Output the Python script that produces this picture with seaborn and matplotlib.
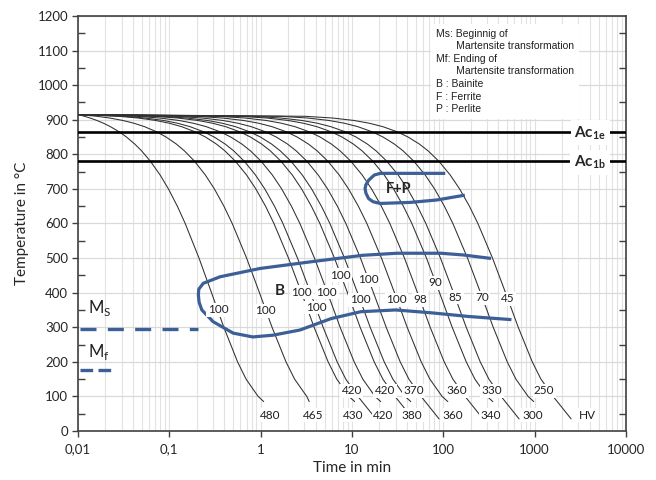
import matplotlib
matplotlib.use("Agg")
import matplotlib.pyplot as plt
import seaborn as sns
import pandas as pd
from matplotlib.ticker import FixedLocator, NullFormatter, LogLocator

# ---------------- data ----------------
# temperature levels at which the time of every cooling curve was read
T_LEVELS = [915, 910, 905, 898, 890, 880, 865, 850, 830, 810, 780, 740, 700, 650, 600, 500, 400, 300, 200, 150, 100]

c01 = [0.01, 0.01178, 0.01356, 0.01609, 0.01899, 0.02266, 0.02826, 0.03396, 0.04173, 0.04970, 0.06207, 0.07939, 0.09776, 0.1224, 0.1492, 0.2113, 0.2894, 0.3950, 0.5582, 0.6921, 0.9378]
c02 = [0.01, 0.01610, 0.02224, 0.03090, 0.04088, 0.05349, 0.07270, 0.09228, 0.1190, 0.1463, 0.1888, 0.2483, 0.3114, 0.3960, 0.4882, 0.7013, 0.9696, 1.332, 1.893, 2.353, 3.197]
c03 = [0.01, 0.02772, 0.04554, 0.07067, 0.09965, 0.1363, 0.1920, 0.2489, 0.3263, 0.4058, 0.5292, 0.7018, 0.8850, 1.131, 1.398, 2.017, 2.796, 3.848, 5.476, 6.811, 9.261]
c04 = [0.01, 0.03225, 0.05462, 0.08618, 0.1226, 0.1685, 0.2386, 0.3099, 0.4072, 0.5070, 0.6618, 0.8786, 1.109, 1.417, 1.753, 2.530, 3.508, 4.829, 6.873, 8.549, 11.62]
c05 = [0.01, 0.04418, 0.07857, 0.1271, 0.1830, 0.2536, 0.3612, 0.4708, 0.6202, 0.7736, 1.012, 1.345, 1.698, 2.172, 2.688, 3.881, 5.384, 7.414, 10.56, 13.13, 17.86]
c06 = [0.01, 0.06665, 0.1236, 0.2040, 0.2966, 0.4137, 0.5920, 0.7737, 1.021, 1.276, 1.670, 2.222, 2.808, 3.593, 4.449, 6.426, 8.917, 12.28, 17.49, 21.76, 29.59]
c07 = [0.01, 0.08296, 0.1564, 0.2598, 0.3792, 0.5300, 0.7596, 0.9936, 1.313, 1.640, 2.148, 2.859, 3.613, 4.625, 5.727, 8.274, 11.48, 15.81, 22.52, 28.02, 38.10]
c08 = [0.01, 0.1192, 0.2291, 0.3840, 0.5626, 0.7883, 1.132, 1.482, 1.960, 2.450, 3.210, 4.274, 5.403, 6.918, 8.566, 12.38, 17.18, 23.67, 33.70, 41.93, 57.03]
c09 = [0.01, 0.1955, 0.3821, 0.6453, 0.9487, 1.332, 1.916, 2.511, 3.322, 4.154, 5.446, 7.253, 9.171, 11.74, 14.55, 21.02, 29.18, 40.19, 57.24, 71.22, 96.87]
c10 = [0.01, 0.3414, 0.6747, 1.145, 1.687, 2.372, 3.415, 4.477, 5.926, 7.413, 9.720, 12.95, 16.37, 20.97, 25.97, 37.54, 52.11, 71.79, 102.2, 127.2, 173.0]
c11 = [0.01, 0.5872, 1.168, 1.986, 2.930, 4.123, 5.940, 7.791, 10.31, 12.90, 16.92, 22.55, 28.51, 36.52, 45.23, 65.38, 90.76, 125.0, 178.1, 221.6, 301.4]
c12 = [0.01, 0.8315, 1.658, 2.823, 4.167, 5.865, 8.450, 11.08, 14.68, 18.36, 24.08, 32.09, 40.58, 51.97, 64.38, 93.06, 129.2, 178.0, 253.4, 315.3, 428.9]
c13 = [0.01, 1.633, 3.267, 5.569, 8.224, 11.58, 16.69, 21.90, 28.99, 36.28, 47.58, 63.40, 80.18, 102.7, 127.2, 183.9, 255.3, 351.7, 500.8, 623.2, 847.6]
c14 = [0.01, 3.060, 6.129, 10.46, 15.44, 21.75, 31.35, 41.13, 54.47, 68.16, 89.39, 119.1, 150.7, 193.0, 239.0, 345.5, 479.6, 660.8, 941.1, 1171, 1593]
CURVES = [c01, c02, c03, c04, c05, c06, c07, c08, c09, c10, c11, c12, c13, c14]
END_TIME = [1.08, 3.40, 10.7, 18.3, 20.6, 46.6, 44.0, 89.8, 112, 272, 348, 675, 978, 2507]
END_TEMP = [85, 85, 85, 35, 85, 35, 85, 35, 85, 35, 85, 35, 85, 35]

# bainite region outline
B_TIME = [333, 165, 94, 31, 13, 3.48, 0.985, 0.36, 0.235, 0.21, 0.208, 0.212, 0.227, 0.302,
          0.50, 0.82, 1.36, 2.69, 5.9, 12.5, 30, 72, 192, 557]
B_TEMP = [499, 509, 514, 514, 508, 489, 470, 446, 427, 410, 393, 372, 350, 316,
          283, 272, 277, 292, 325, 345, 350, 342, 331, 322]
# ferrite + perlite region outline
FP_TIME = [105, 20.3, 17.5, 15.2, 14.2, 13.9, 14.2, 15.2, 17.0, 20.3, 43.3, 85, 172]
FP_TEMP = [745, 745, 740, 725, 712, 701, 688, 672, 663, 658, 661, 668, 682]

AC1E, AC1B = 865, 780
MS_TEMP, MS_END = 295, 0.208
MF_TEMP, MF_END = 176, 0.0248

MID_TEXT = ["100"] * 9 + ["98", "90", "85", "70", "45"]
MID_TIME = [0.342, 1.12, 2.82, 4.04, 5.30, 7.41, 12.3, 15.1, 30.9, 55.7, 81.4, 135, 266, 513]
MID_TEMP = [350, 347, 401, 357, 401, 451, 379, 437, 379, 379, 428, 387, 385, 382]

HV_TEXT = ["480", "465", "430", "420", "380", "360", "340", "300", "HV",
           "420", "420", "370", "360", "330", "250"]
HV_TIME = [1.27, 3.78, 10.4, 22.1, 45.2, 128, 326, 963, 3758,
           9.95, 23.0, 47.0, 141, 340, 1271]
HV_TEMP = [46] * 9 + [116] * 6

X_TICKS = [0.01, 0.1, 1, 10, 100, 1000, 10000]
X_TICK_LABELS = ["0,01", "0,1", "1", "10", "100", "1000", "10000"]
Y_TICKS = list(range(0, 1201, 100))
Y_MINOR = list(range(50, 1200, 100))

LEGEND_TEXT = ("Ms: Beginnig of\n       Martensite transformation\n"
               "Mf: Ending of\n       Martensite transformation\n"
               "B : Bainite\nF : Ferrite\nP : Perlite")

BLUE = "#3b5f96"

# ---------------- build long table ----------------
rows = []
for i, tl in enumerate(CURVES):
    for t, T in zip(tl, T_LEVELS):
        rows.append({"curve": i, "time": t, "temp": T})
    rows.append({"curve": i, "time": END_TIME[i], "temp": END_TEMP[i]})
df = pd.DataFrame(rows)

sns.set_style("white")
plt.rcParams["font.family"] = ["Lato", "DejaVu Sans"]
plt.rcParams["mathtext.fontset"] = "custom"
plt.rcParams["mathtext.rm"] = "Lato"
plt.rcParams["mathtext.bf"] = "Lato:bold"

fig = plt.figure(figsize=(6.56, 4.80), dpi=100)
ax = fig.add_axes([78 / 656, 1 - 431 / 480, (626 - 78) / 656, (431 - 16) / 480])

sns.lineplot(data=df, x="time", y="temp", units="curve", estimator=None, sort=False,
             color="#303030", lw=0.75, ax=ax, legend=False, zorder=3)

ax.set_xscale("log")
ax.set_xlim(0.01, 10000)
ax.set_ylim(0, 1200)

# Ac lines
ax.axhline(AC1E, color="black", lw=1.9, zorder=4)
ax.axhline(AC1B, color="black", lw=1.9, zorder=4)

# regions
ax.plot(B_TIME, B_TEMP, color=BLUE, lw=2.3, zorder=5, solid_joinstyle="round", solid_capstyle="butt")
ax.plot(FP_TIME, FP_TEMP, color=BLUE, lw=2.3, zorder=5, solid_joinstyle="round", solid_capstyle="butt")

# Ms / Mf
ax.plot([0.0104, MS_END], [MS_TEMP, MS_TEMP], color=BLUE, lw=2.4, dashes=(4.8, 3.4), zorder=5)
ax.plot([0.0104, MF_END], [MF_TEMP, MF_TEMP], color=BLUE, lw=2.4, dashes=(3.8, 1.6), zorder=5)
ax.text(0.0128, 355, r"M$_\mathrm{S}$", fontsize=12, ha="left", va="center", color="#202020")
ax.text(0.0128, 229, r"M$_\mathrm{f}$", fontsize=12, ha="left", va="center", color="#202020")

# region labels
ax.text(32.8, 701, "F+P", fontsize=10.5, fontweight="bold", ha="center", va="center", zorder=6)
ax.text(1.60, 405, "B", fontsize=11, fontweight="bold", ha="center", va="center", zorder=6)

lbl_box = dict(boxstyle="square,pad=0.12", fc="white", ec="none")
for s, t, T in zip(MID_TEXT, MID_TIME, MID_TEMP):
    ax.text(t, T, s, fontsize=8.5, ha="center", va="center", bbox=lbl_box, zorder=7, color="#202020")
for s, t, T in zip(HV_TEXT, HV_TIME, HV_TEMP):
    ax.text(t, T, s, fontsize=8.5, ha="center", va="center", bbox=lbl_box, zorder=7, color="#202020")

ac_box = dict(boxstyle="square,pad=0.25", fc="white", ec="none")
ax.text(4055, AC1E - 3, r"$\mathbf{Ac_{1e}}$", fontsize=11, ha="center", va="center", bbox=ac_box, zorder=7)
ax.text(4055, AC1B - 3, r"$\mathbf{Ac_{1b}}$", fontsize=11, ha="center", va="center", bbox=ac_box, zorder=7)

ax.text(83.4, 1163, LEGEND_TEXT, fontsize=7.5, family=["Liberation Sans", "DejaVu Sans"],
        ha="left", va="top", linespacing=1.32, color="#202020",
        bbox=dict(boxstyle="square,pad=0.45", fc="white", ec="none"), zorder=7)

# axes styling
ax.xaxis.set_major_locator(FixedLocator(X_TICKS))
ax.set_xticklabels(X_TICK_LABELS)
ax.xaxis.set_minor_locator(LogLocator(base=10, subs=[2, 3, 4, 5, 6, 7, 8, 9], numticks=20))
ax.xaxis.set_minor_formatter(NullFormatter())
ax.yaxis.set_major_locator(FixedLocator(Y_TICKS))
ax.yaxis.set_minor_locator(FixedLocator(Y_MINOR))

ax.grid(True, which="major", axis="y", color="#dadada", lw=0.9, zorder=0)
ax.grid(True, which="both", axis="x", color="#e2e2e2", lw=0.8, zorder=0)
ax.set_axisbelow(True)

ax.tick_params(axis="x", which="major", direction="out", length=4, width=1, color="#404040",
               labelsize=9.5, pad=5, bottom=True, top=False)
ax.tick_params(axis="x", which="minor", length=0)
ax.tick_params(axis="y", which="major", direction="out", length=4, width=1, color="#404040",
               labelsize=9.5, pad=3, left=True, right=False)
ax.tick_params(axis="y", which="minor", direction="in", length=5, width=1, color="#404040",
               left=True, right=True)
for sp in ax.spines.values():
    sp.set_visible(True)
    sp.set_color("#404040")
    sp.set_linewidth(1.2)

ax.set_xlabel("Time in min", fontsize=11, labelpad=4)
ax.set_ylabel("Temperature in °C", fontsize=11, labelpad=6)

fig.savefig("out.png", dpi=100)
